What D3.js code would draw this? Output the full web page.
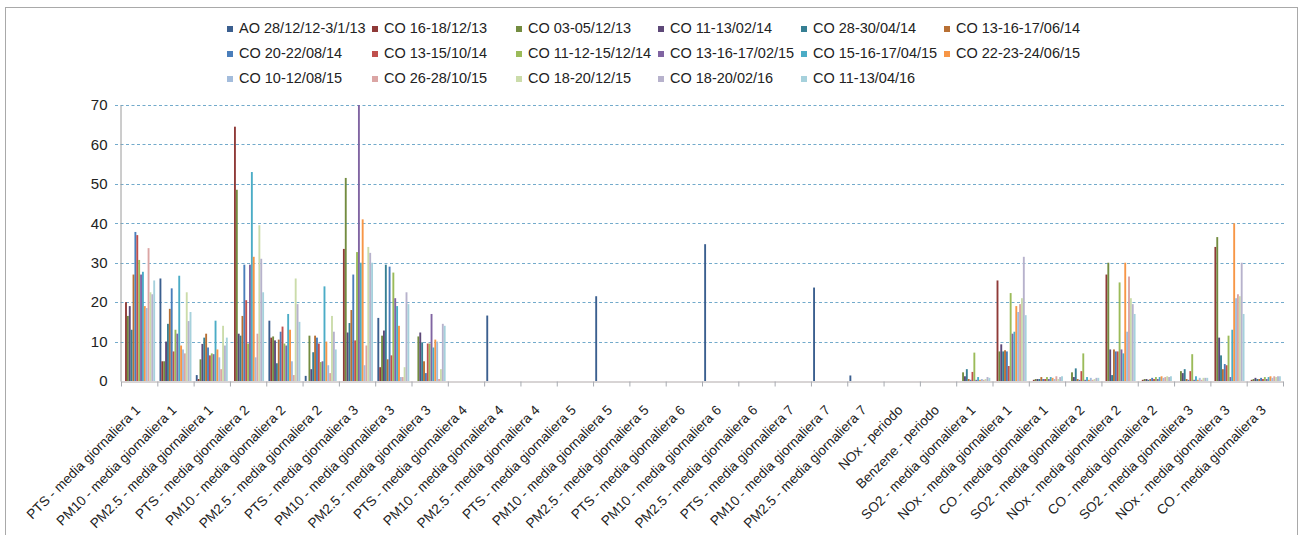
<!DOCTYPE html>
<html><head><meta charset="utf-8">
<script src="https://cdn.jsdelivr.net/npm/d3@7"></script>
<style>html,body{margin:0;padding:0;background:#fff;} svg{display:block;font-family:Arial,"Liberation Sans",sans-serif;}</style>
</head><body><svg id="c" width="1302" height="535"></svg>
<script>
const categories = [
  "PTS - media giornaliera 1","PM10 - media giornaliera 1","PM2.5 - media giornaliera 1",
  "PTS - media giornaliera 2","PM10 - media giornaliera 2","PM2.5 - media giornaliera 2",
  "PTS - media giornaliera 3","PM10 - media giornaliera 3","PM2.5 - media giornaliera 3",
  "PTS - media giornaliera 4","PM10 - media giornaliera 4","PM2.5 - media giornaliera 4",
  "PTS - media giornaliera 5","PM10 - media giornaliera 5","PM2.5 - media giornaliera 5",
  "PTS - media giornaliera 6","PM10 - media giornaliera 6","PM2.5 - media giornaliera 6",
  "PTS - media giornaliera 7","PM10 - media giornaliera 7","PM2.5 - media giornaliera 7",
  "NOx - periodo","Benzene - periodo",
  "SO2 - media giornaliera 1","NOx - media giornaliera 1","CO - media giornaliera 1",
  "SO2 - media giornaliera 2","NOx - media giornaliera 2","CO - media giornaliera 2",
  "SO2 - media giornaliera 3","NOx - media giornaliera 3","CO - media giornaliera 3"
];
const seriesNames = [
  "AO 28/12/12-3/1/13","CO 16-18/12/13","CO 03-05/12/13","CO 11-13/02/14","CO 28-30/04/14","CO 13-16-17/06/14",
  "CO 20-22/08/14","CO 13-15/10/14","CO 11-12-15/12/14","CO 13-16-17/02/15","CO 15-16-17/04/15","CO 22-23-24/06/15",
  "CO 10-12/08/15","CO 26-28/10/15","CO 18-20/12/15","CO 18-20/02/16","CO 11-13/04/16"
];
const seriesColors = [
  "#3b5f8f","#8f3a38","#738c40","#5d4878","#367f93","#b87034",
  "#4a7ebb","#c0504d","#9bbb59","#8064a2","#4bacc6","#f79646",
  "#a3bcdc","#dba5a4","#cbdcaa","#b7b2cc","#a6d1dc"
];
// values per series, one entry per category
const s0  = [0,26,1.5,0,15.3,1.3,0,16,0, 0,16.6,0,0,21.5,0,0,34.7,0,0,23.7,1.4,0,0, 0,0,0,0,0,0,0,0,0];
const s1  = [20,5,0.5,64.5,11,0,33.5,3.5,0, 0,0,0,0,0,0,0,0,0,0,0,0,0,0, 0,25.5,0.3,0,27,0.3,0,34,0.3];
const s2  = [16.5,5,5.5,48.5,11.3,11.5,51.5,11.5,11.3, 0,0,0,0,0,0,0,0,0,0,0,0,0,0, 2.2,7.5,0.5,2.2,30,0.5,2.5,36.5,0.5];
const s3  = [19,10,9.4,12,10.3,3,12.3,12.8,12.3, 0,0,0,0,0,0,0,0,0,0,0,0,0,0, 1.2,9.3,0.5,1,8,0.5,2,11,0.8];
const s4  = [13,14.5,11,11.5,4.5,7.3,14.7,29.5,9.8, 0,0,0,0,0,0,0,0,0,0,0,0,0,0, 3,7.5,0.5,3.2,1.5,0.3,3,6.5,0.5];
const s5  = [27,18.3,12,16.5,10.5,11.5,18,5.5,5, 0,0,0,0,0,0,0,0,0,0,0,0,0,0, 0.5,7.8,1,0.5,8,0.5,0.5,3,0.5];
const s6  = [37.8,23.5,8.5,29.5,12.5,11,27,29,2, 0,0,0,0,0,0,0,0,0,0,0,0,0,0, 0.3,7.5,0.5,0.3,7.5,0.8,0.3,4.3,0.8];
const s7  = [37,7.5,6.5,20.5,13.8,9.5,10.3,6.5,9.5, 0,0,0,0,0,0,0,0,0,0,0,0,0,0, 2.3,3.8,0.5,2.5,7.5,0.5,2.5,4,0.5];
const s8  = [30.7,13,7,9.5,9.5,4.8,32.7,27.5,9.5, 0,0,0,0,0,0,0,0,0,0,0,0,0,0, 7.2,22.3,1,7,25,1,6.8,11.5,1];
const s9  = [27,12,6.8,29.5,9,5,70,21,17, 0,0,0,0,0,0,0,0,0,0,0,0,0,0, 0.3,12,0.5,0.3,8,0.5,0.3,1,0.5];
const s10 = [27.7,26.7,15.3,53,17,24,30,19,8.5, 0,0,0,0,0,0,0,0,0,0,0,0,0,0, 1,12.5,1,1,7,1,1.2,13,1];
const s11 = [19,9,8,31.5,13,10,41,14,10.5, 0,0,0,0,0,0,0,0,0,0,0,0,0,0, 0.3,19,0.8,0.3,30,1.2,0.3,40,1.2];
const s12 = [18.5,8,6,6,5,4,4,1,10, 0,0,0,0,0,0,0,0,0,0,0,0,0,0, 0.5,17.5,0.5,0.8,12.5,0.8,0.8,21,0.8];
const s13 = [33.7,7,3,12,1.5,2,9,1,0.5, 0,0,0,0,0,0,0,0,0,0,0,0,0,0, 0.3,19.5,1.2,0.3,26.5,1,0.3,22,1.2];
const s14 = [22.5,22.5,14,39.5,26,16.5,34,3.5,3, 0,0,0,0,0,0,0,0,0,0,0,0,0,0, 0.5,21,0.5,0.5,21,1.2,0.8,21.5,1];
const s15 = [22,15.2,9,31,19.5,12.5,32.5,22.5,14.5, 0,0,0,0,0,0,0,0,0,0,0,0,0,0, 1,31.5,1,0.8,19.5,1,0.8,30,1.2];
const s16 = [25.5,17.5,11,22.5,15,8,30,19.5,14, 0,0,0,0,0,0,0,0,0,0,0,0,0,0, 0.8,16.7,1.2,0.8,17,1.2,0.8,17,1.2];
const seriesValues = [s0,s1,s2,s3,s4,s5,s6,s7,s8,s9,s10,s11,s12,s13,s14,s15,s16];
const yTicks = [0,10,20,30,40,50,60,70];

const svg = d3.select('#c');
const PL = 121, PR = 1283, PT = 105, PB = 381;

// outer frame
svg.append('rect').attr('x',5.5).attr('y',7.5).attr('width',1292).attr('height',560)
  .attr('fill','none').attr('stroke','#a9a9a9');

const y = d3.scaleLinear().domain([0,70]).range([PB,PT]);
const x0 = d3.scaleBand().domain(categories).range([PL,PR]).paddingInner(0.12).paddingOuter(0.06);
const x1 = d3.scaleBand().domain(d3.range(seriesNames.length)).range([0,x0.bandwidth()]);
const xi = d3.scaleLinear().domain([0,categories.length]).range([PL,PR]);

// gridlines
svg.append('g').selectAll('line').data(yTicks.filter(t=>t>0)).join('line')
  .attr('x1',115).attr('x2',1286)
  .attr('y1',d=>Math.round(y(d))+0.5).attr('y2',d=>Math.round(y(d))+0.5)
  .attr('stroke','#72aacb').attr('stroke-width',1).attr('stroke-dasharray','3,2.5');

// bars
const groups = svg.append('g').selectAll('g').data(categories).join('g')
  .attr('transform',c=>`translate(${x0(c)},0)`);
groups.selectAll('rect').data((c,i)=>seriesValues.map((s,j)=>({j:j,v:s[i]}))).join('rect')
  .attr('x',d=>x1(d.j)).attr('width',x1.bandwidth())
  .attr('y',d=>y(d.v)).attr('height',d=>y(0)-y(d.v))
  .attr('fill',d=>seriesColors[d.j]);

// y axis
const ya = svg.append('g').attr('transform',`translate(${PL-0.5},0)`)
  .call(d3.axisLeft(y).tickValues(yTicks).tickSize(0).tickPadding(13));
ya.select('.domain').attr('stroke','#9a9a9a');
ya.selectAll('text').attr('font-size',15).attr('fill','#222').attr('font-family','Arial,"Liberation Sans",sans-serif');

// x axis (ticks at category boundaries)
const xa = svg.append('g').attr('transform',`translate(0,${PB+0.5})`)
  .call(d3.axisBottom(xi).tickValues(d3.range(categories.length+1)).tickSize(5).tickSizeOuter(0).tickFormat(''));
xa.select('.domain').attr('stroke','#b0a9aa');
xa.selectAll('.tick line').attr('stroke','#a7aab0');

// category labels
svg.append('g').selectAll('text').data(categories).join('text')
  .attr('transform',c=>`translate(${x0(c)+x0.bandwidth()/2+2},411) rotate(-45)`)
  .attr('text-anchor','end').attr('font-size',13.6).attr('fill','#222')
  .text(c=>c);

// legend
const legX = [227,372,516,658,801,944];
const legY = [33,58,83];
const leg = svg.append('g').selectAll('g').data(seriesNames).join('g')
  .attr('transform',(d,i)=>`translate(${legX[i%6]},${legY[Math.floor(i/6)]})`);
leg.append('rect').attr('x',0).attr('y',-7).attr('width',6).attr('height',6).attr('fill',(d,i)=>seriesColors[i]);
leg.append('text').attr('x',12).attr('y',0).attr('font-size',14.5).attr('fill','#222').text(d=>d);
</script></body></html>
